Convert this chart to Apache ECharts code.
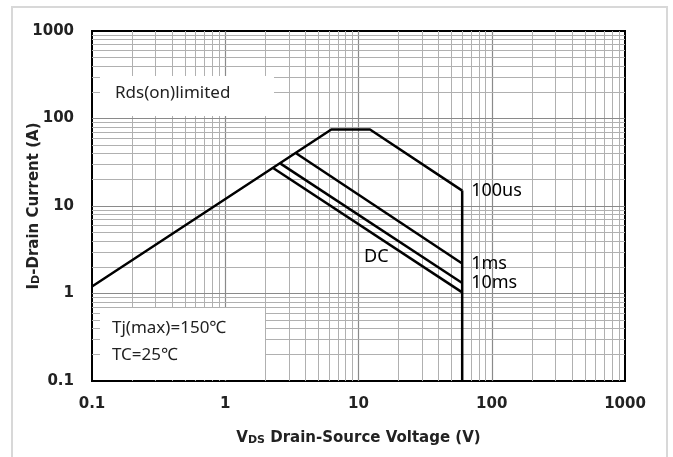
<!DOCTYPE html>
<html>
<head>
<meta charset="utf-8">
<script src="https://cdn.jsdelivr.net/npm/echarts@6/dist/echarts.min.js"></script>
<style>
  html, body { margin: 0; padding: 0; background: #fff; }
  #chart { width: 673px; height: 457px; }
</style>
</head>
<body>
<div id="chart"></div>
<script>
// SOA curves (V, A)
const limitV = [0.1, 6.25, 12.2, 60]   // Rds(on) line + 100us
const limitI = [1.2, 75, 75, 15]
const ms1V = [3.4, 60]
const ms1I = [40, 2.2]
const ms10V = [2.6, 60]
const ms10I = [30.5, 1.32]
const dcV = [2.3, 60]
const dcI = [27, 1.03]
const edgeV = [60, 60]                  // VDS max boundary
const edgeI = [15, 0.1]

const xTicks = [0.1, 1, 10, 100, 1000]
const yTicks = [0.1, 1, 10, 100, 1000]

const chart = echarts.init(document.getElementById('chart'))

function pairs(xs, ys) {
  return xs.map((v, i) => [v, ys[i]])
}

// log grid lines, 2..9 per decade plus the decades themselves
function gridLines(ticks, key) {
  const out = []
  for (let d = 0; d < ticks.length - 1; d++) {
    for (let k = 1; k <= 9; k++) {
      if (d === 0 && k === 1) continue
      const v = ticks[d] * k
      const item = {}
      item[key] = v
      item.lineStyle = k === 1
        ? { color: '#8a8a8a', width: 1.2, type: 'solid' }
        : { color: '#b0b0b0', width: 1, type: 'solid' }
      out.push(item)
    }
  }
  return out
}

const curve = (name, data, endLabel) => ({
  name: name,
  type: 'line',
  data: data,
  zlevel: 2,
  showSymbol: false,
  animation: false,
  silent: true,
  lineStyle: { color: '#000', width: 2.5 },
  endLabel: {
    show: !!endLabel,
    formatter: endLabel || '',
    distance: 9,
    color: '#000',
    fontSize: 18,
    fontFamily: 'Noto Sans'
  }
})

const nameRich = {
  b: { fontFamily: 'DejaVu Sans', fontWeight: 'bold', fontSize: 15, color: '#222', lineHeight: 20, verticalAlign: 'bottom' },
  s: { fontFamily: 'DejaVu Sans', fontWeight: 'bold', fontSize: 11, color: '#222', lineHeight: 11, verticalAlign: 'bottom' }
}

chart.setOption({
  animation: false,
  grid: {
    left: 92,
    top: 31,
    width: 533,
    height: 350,
    show: true,
    borderColor: '#000',
    borderWidth: 2,
    backgroundColor: '#fff'
  },
  xAxis: {
    type: 'log',
    logBase: 10,
    min: 0.1,
    max: 1000,
    name: '{b|V}{s|DS}{b| Drain-Source Voltage (V)}',
    nameLocation: 'middle',
    nameGap: 45,
    nameMoveOverlap: false,
    nameTextStyle: { rich: nameRich },
    axisLine: { show: false },
    axisTick: { show: false },
    splitLine: { show: false },
    axisLabel: {
      margin: 16,
      fontFamily: 'DejaVu Sans',
      fontWeight: 'bold',
      fontSize: 15,
      color: '#222',
      formatter: v => String(v),
      customValues: xTicks
    }
  },
  yAxis: {
    type: 'log',
    logBase: 10,
    min: 0.1,
    max: 1000,
    name: '{b|I}{s|D}{b|-Drain Current (A)}',
    nameLocation: 'middle',
    nameRotate: 90,
    nameGap: 50,
    nameMoveOverlap: false,
    nameTextStyle: { rich: nameRich },
    axisLine: { show: false },
    axisTick: { show: false },
    splitLine: { show: false },
    axisLabel: {
      margin: 18,
      fontFamily: 'DejaVu Sans',
      fontWeight: 'bold',
      fontSize: 15,
      color: '#222',
      formatter: v => String(v),
      customValues: yTicks
    }
  },
  graphic: [
    {
      type: 'rect',
      zlevel: 1,
      silent: true,
      shape: { x: 12, y: 7, width: 655, height: 460 },
      style: { fill: 'none', stroke: '#d8d8d8', lineWidth: 2 }
    },
    {
      type: 'rect',
      zlevel: 1,
      silent: true,
      shape: { x: 100, y: 76, width: 174, height: 40 },
      style: { fill: '#fff' }
    },
    {
      type: 'text',
      zlevel: 1,
      z: 10,
      left: 115,
      top: 85,
      style: { text: 'Rds(on)limited', fontFamily: 'Noto Sans', fontSize: 17, fill: '#222' }
    },
    {
      type: 'rect',
      zlevel: 1,
      silent: true,
      shape: { x: 100, y: 308, width: 165, height: 72 },
      style: { fill: '#fff' }
    },
    {
      type: 'text',
      zlevel: 1,
      z: 10,
      left: 112,
      top: 315,
      style: {
        text: 'Tj(max)=150℃\nTC=25℃',
        fontFamily: 'Noto Sans, Noto Sans CJK SC',
        fontSize: 17,
        lineHeight: 27,
        fill: '#222'
      }
    },
    {
      type: 'text',
      zlevel: 2,
      left: 364,
      top: 248,
      style: { text: 'DC', fontFamily: 'Noto Sans', fontSize: 18, fill: '#000' }
    }
  ],
  series: [
    {
      name: 'grid',
      type: 'line',
      data: [],
      silent: true,
      animation: false,
      markLine: {
        silent: true,
        animation: false,
        symbol: ['none', 'none'],
        label: { show: false },
        data: gridLines(xTicks, 'xAxis').concat(gridLines(yTicks, 'yAxis'))
      }
    },
    curve('100us', pairs(limitV, limitI), '100us'),
    curve('1ms', pairs(ms1V, ms1I), '1ms'),
    curve('10ms', pairs(ms10V, ms10I), '10ms'),
    curve('DC', pairs(dcV, dcI), ''),
    curve('edge', pairs(edgeV, edgeI), '')
  ]
})
</script>
</body>
</html>
